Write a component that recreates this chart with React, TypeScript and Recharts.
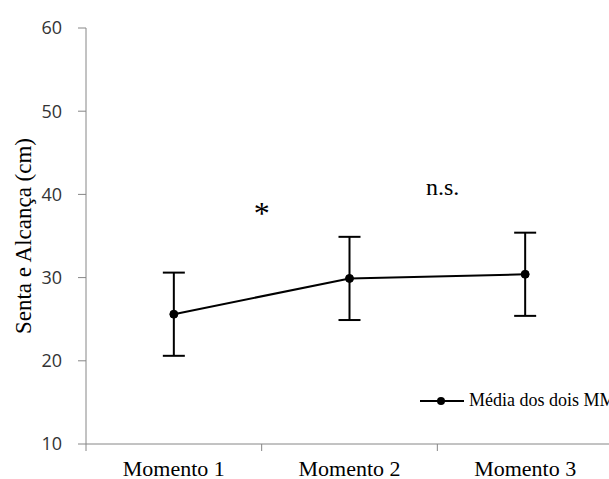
import {
  LineChart,
  Line,
  XAxis,
  YAxis,
  ErrorBar,
  ReferenceDot,
  Legend,
} from 'recharts';

const momentos = ['Momento 1', 'Momento 2', 'Momento 3'];
const posicao = [1, 2, 3];
const media = [25.6, 29.9, 30.4];
const erro = [5.0, 5.0, 5.0];
const yTicks = [10, 20, 30, 40, 50, 60];
const divisoes = [0.5, 1.5, 2.5, 3.5];

// annotations (position in data space: x on the numeric axis, y in cm)
const notas = [
  { x: 1.5, y: 37.8, texto: '*' },
  { x: 2.53, y: 40.9, texto: 'n.s.' },
];

const data = momentos.map((m, i) => ({ name: m, x: posicao[i], media: media[i], erro: erro[i] }));
const xTicks = [...divisoes, ...posicao].sort((a, b) => a - b);

const AXIS = '#868686';
const SERIF = '"Liberation Serif", "Times New Roman", serif';
const TICK_SIZE = 7;
const TICK_MARGIN = 6;

// divisions get a short tick mark, category centres get the name
const renderXTick = (props: any) => {
  const { x, y, payload } = props;
  const axisY = y - TICK_SIZE - TICK_MARGIN;
  const idx = posicao.indexOf(payload.value);
  if (idx < 0) {
    return <line x1={x} y1={axisY} x2={x} y2={axisY + TICK_SIZE} stroke={AXIS} />;
  }
  return (
    <text x={x} y={axisY + 32} textAnchor="middle" fill="#000" fontSize={22} fontFamily={SERIF}>
      {momentos[idx]}
    </text>
  );
};

const renderLegend = () => (
  <div style={{ display: 'flex', alignItems: 'center', fontFamily: SERIF, fontSize: 18, color: '#000', whiteSpace: 'nowrap' }}>
    <svg width={46} height={10}>
      <line x1={0} y1={5} x2={44} y2={5} stroke="#000" strokeWidth={2} />
      <circle cx={21} cy={5} r={4} fill="#000" />
    </svg>
    <span style={{ marginLeft: 3 }}>Média dos dois MMII</span>
  </div>
);

const App = () => {
  return (
    <div style={{ position: 'absolute', left: 0, top: 0, width: 609, height: 479, overflow: 'hidden', background: '#fff' }}>
      <LineChart width={620} height={479} data={data} margin={{ top: 28, right: 7, bottom: 0, left: 0 }}>
        <XAxis
          dataKey="x"
          type="number"
          domain={[0.5, 3.5]}
          ticks={xTicks}
          interval={0}
          allowDataOverflow
          height={35}
          tickSize={TICK_SIZE}
          tickMargin={TICK_MARGIN}
          tickLine={false}
          tick={renderXTick}
          axisLine={{ stroke: AXIS }}
        />
        <YAxis
          domain={[10, 60]}
          ticks={yTicks}
          width={86}
          tickSize={8}
          tickMargin={16}
          axisLine={{ stroke: AXIS }}
          tickLine={{ stroke: AXIS }}
          tick={{ fill: '#333', fontSize: 18, fontFamily: '"Open Sans", sans-serif' }}
          label={{
            value: 'Senta e Alcança (cm)',
            angle: -90,
            position: 'insideLeft',
            offset: 23,
            style: { textAnchor: 'middle', fontFamily: SERIF, fontSize: 23, fill: '#000' },
          }}
        />
        <Line
          dataKey="media"
          stroke="#000"
          strokeWidth={2}
          dot={{ r: 4, fill: '#000', stroke: '#000', strokeWidth: 1 }}
          isAnimationActive={false}
        >
          <ErrorBar dataKey="erro" direction="y" width={11} stroke="#000" strokeWidth={2} isAnimationActive={false} />
        </Line>
        {notas.map((n) => (
          <ReferenceDot
            key={n.texto}
            x={n.x}
            y={n.y}
            r={0}
            fill="none"
            stroke="none"
            label={{ value: n.texto, position: 'center', fill: '#000', fontSize: n.texto === '*' ? 32 : 24, fontFamily: SERIF }}
          />
        ))}
        <Legend
          layout="horizontal"
          verticalAlign="middle"
          align="center"
          content={renderLegend}
          wrapperStyle={{ position: 'absolute', left: 420, top: 390, width: 'auto' }}
        />
      </LineChart>
    </div>
  );
};

export default App;
